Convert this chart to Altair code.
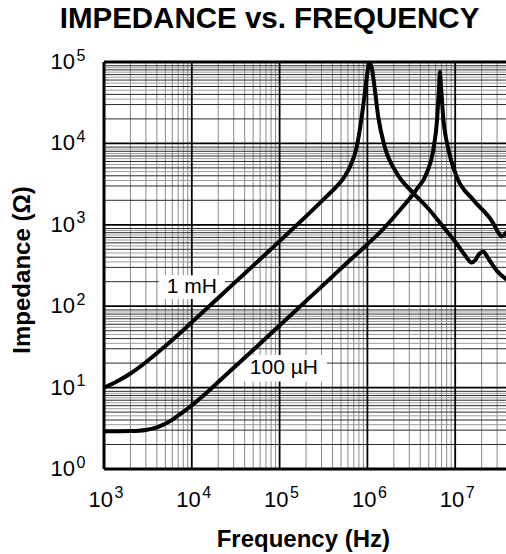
import altair as alt
import pandas as pd

# ---------------- data ----------------
freq_1mh = [1e3, 1.4e3, 2e3, 3e3, 4.35e3, 6e3, 1e4, 1.6e4, 2.5e4, 4e4, 6e4, 1e5,
            2.2e5, 3.5e5, 4.5e5, 5.3e5, 6.3e5, 7.55e5, 8.6e5, 9.2e5, 9.64e5, 1.02e6, 1.07e6, 1.12e6,
            1.19e6, 1.33e6, 1.58e6, 2.16e6, 3.34e6, 5.16e6, 7e6, 1e7, 1.3e7, 1.54e7, 1.7e7,
            1.85e7, 2.09e7, 2.4e7, 3e7, 3.8e7]
z_1mh = [10, 11.9, 14.9, 20.5, 28.5, 38.5, 63.5, 101, 158, 252, 378, 630,
         1400, 2280, 2990, 3700, 5100, 9000, 21000, 36000, 55000, 85000, 98000, 85000,
         55000, 21000, 9000, 4300, 2450, 1500, 1000, 620, 420, 345, 370,
         430, 468, 380, 270, 215]

freq_100uh = [1e3, 2e3, 3e3, 4e3, 5e3, 6e3, 7e3, 8.5e3, 1e4, 1.25e4, 1.6e4, 2e4, 3e4,
              5e4, 1e5, 2.12e5, 4e5, 6e5, 9.8e5, 1.5e6, 2.35e6, 3.6e6, 4.73e6, 5.63e6,
              6.25e6, 6.55e6, 6.7e6, 6.85e6, 7.3e6, 8.4e6, 1.04e7, 1.61e7, 2.72e7, 3.1e7,
              3.4e7, 3.8e7]
z_100uh = [2.9, 2.93, 3.02, 3.25, 3.6, 4.05, 4.55, 5.3, 6.05, 7.4, 9.35, 11.7, 17.5,
           29, 58, 123, 232, 350, 565, 880, 1520, 2680, 4300, 8300,
           21000, 50000, 76000, 55000, 21000, 8300, 3900, 2020, 1040, 800,
           720, 800]

x_decades = [1e3, 1e4, 1e5, 1e6, 1e7]
x_exponents = ["3", "4", "5", "6", "7"]
y_decades = [1, 10, 100, 1e3, 1e4, 1e5]
y_exponents = ["0", "1", "2", "3", "4", "5"]
minor_steps = [2, 3, 4, 5, 6, 7, 8, 9]
half_steps = [3.5, 4.5, 5.5, 6.5, 7.5, 8.5]

label_text = ["1 mH", "100 \u00b5H"]
label_freq = [1.0e4, 1.12e5]
label_z = [172, 17.3]

X_MIN, X_MAX = 1e3, 3.79e7
Y_MIN, Y_MAX = 1, 1e5
W, H = 402, 407
FONT = "Liberation Sans"

xs = alt.Scale(type="log", domain=[X_MIN, X_MAX], nice=False)
ys = alt.Scale(type="log", domain=[Y_MIN, Y_MAX], nice=False)

def X(field):
    return alt.X(f"{field}:Q", scale=xs, axis=None)

def Y(field):
    return alt.Y(f"{field}:Q", scale=ys, axis=None)

x_minor = [d * m for d in x_decades for m in minor_steps if d * m <= X_MAX]
y_minor = [d * m for d in y_decades[:-1] for m in minor_steps]
y_half = [d * m for d in y_decades[:-1] for m in half_steps]

vminor = alt.Chart(pd.DataFrame({"f": x_minor})).mark_rule(
    color="#8a8a8a", strokeWidth=1).encode(x=X("f"))
hhalf = alt.Chart(pd.DataFrame({"z": y_half})).mark_rule(
    color="#9a9a9a", strokeWidth=1).encode(y=Y("z"))
hminor = alt.Chart(pd.DataFrame({"z": y_minor})).mark_rule(
    color="#2a2a2a", strokeWidth=1).encode(y=Y("z"))
vmajor = alt.Chart(pd.DataFrame({"f": x_decades[1:]})).mark_rule(
    color="black", strokeWidth=1.8).encode(x=X("f"))
hmajor = alt.Chart(pd.DataFrame({"z": y_decades[1:-1]})).mark_rule(
    color="black", strokeWidth=1.8).encode(y=Y("z"))
vborder = alt.Chart(pd.DataFrame({"f": [X_MIN]})).mark_rule(
    color="black", strokeWidth=3).encode(x=X("f"))
hborder = alt.Chart(pd.DataFrame({"z": [Y_MIN, Y_MAX]})).mark_rule(
    color="black", strokeWidth=3).encode(y=Y("z"))

curves_df = pd.concat([
    pd.DataFrame({"f": freq_1mh, "z": z_1mh, "s": "1 mH"}),
    pd.DataFrame({"f": freq_100uh, "z": z_100uh, "s": "100 uH"}),
])
curves = alt.Chart(curves_df).mark_line(
    color="black", strokeWidth=4, clip=True, interpolate="monotone",
    strokeJoin="round", strokeCap="round").encode(
    x=X("f"), y=Y("z"), detail="s:N")

lab_df = pd.DataFrame({"t": label_text, "f": label_freq, "z": label_z,
                       "shape": ["M-1,-0.36H1V0.36H-1Z", "M-1,-0.31H1V0.31H-1Z"],
                       "size": [66 * 66, 86 * 86]})
boxes = alt.Chart(lab_df).mark_point(
    filled=True, fill="white", opacity=1, strokeWidth=0).encode(
    x=X("f"), y=Y("z"),
    shape=alt.Shape("shape:N", scale=None),
    size=alt.Size("size:Q", scale=None))
labels = alt.Chart(lab_df).mark_text(
    font=FONT, fontSize=21, color="black", baseline="middle", align="center").encode(
    x=X("f"), y=Y("z"), text="t:N")

xt_df = pd.DataFrame({"f": x_decades, "b": ["10"] * len(x_decades), "e": x_exponents})
xt_base = alt.Chart(xt_df).mark_text(
    font=FONT, fontSize=22, align="right", baseline="alphabetic", dx=9).encode(
    x=X("f"), y=alt.value(H + 37.7), text="b:N")
xt_exp = alt.Chart(xt_df).mark_text(
    font=FONT, fontSize=16, align="left", baseline="alphabetic", dx=10.5).encode(
    x=X("f"), y=alt.value(H + 29), text="e:N")

yt_df = pd.DataFrame({"z": y_decades, "b": ["10"] * len(y_decades), "e": y_exponents})
yt_base = alt.Chart(yt_df).mark_text(
    font=FONT, fontSize=22, align="right", baseline="alphabetic", dy=7).encode(
    x=alt.value(-29), y=Y("z"), text="b:N")
yt_exp = alt.Chart(yt_df).mark_text(
    font=FONT, fontSize=16, align="left", baseline="alphabetic", dy=-1.5).encode(
    x=alt.value(-27.5), y=Y("z"), text="e:N")

title = alt.Chart(pd.DataFrame({"t": ["IMPEDANCE vs. FREQUENCY"]})).mark_text(
    font=FONT, fontSize=29.5, fontWeight="bold", align="center", baseline="alphabetic").encode(
    x=alt.value(165.5), y=alt.value(-33.7), text="t:N")
xtitle = alt.Chart(pd.DataFrame({"t": ["Frequency (Hz)"]})).mark_text(
    font=FONT, fontSize=24, fontWeight="bold", align="center", baseline="alphabetic").encode(
    x=alt.value(199.3), y=alt.value(H + 77.7), text="t:N")
ytitle = alt.Chart(pd.DataFrame({"t": ["Impedance (\u03a9)"]})).mark_text(
    font=FONT, fontSize=24, fontWeight="bold", align="center", baseline="alphabetic",
    angle=270).encode(
    x=alt.value(-74), y=alt.value(208), text="t:N")

chart = alt.layer(
    vminor, hhalf, hminor, vmajor, hmajor, boxes, curves, labels,
    vborder, hborder, xt_base, xt_exp, yt_base, yt_exp, title, xtitle, ytitle,
).properties(
    width=W, height=H,
    padding={"left": 104, "top": 62, "right": 0, "bottom": 85},
    autosize=alt.AutoSizeParams(type="none"),
    background="white",
).configure_view(stroke=None)

chart.save("out.html", embed_options={"renderer": "svg", "actions": False})
